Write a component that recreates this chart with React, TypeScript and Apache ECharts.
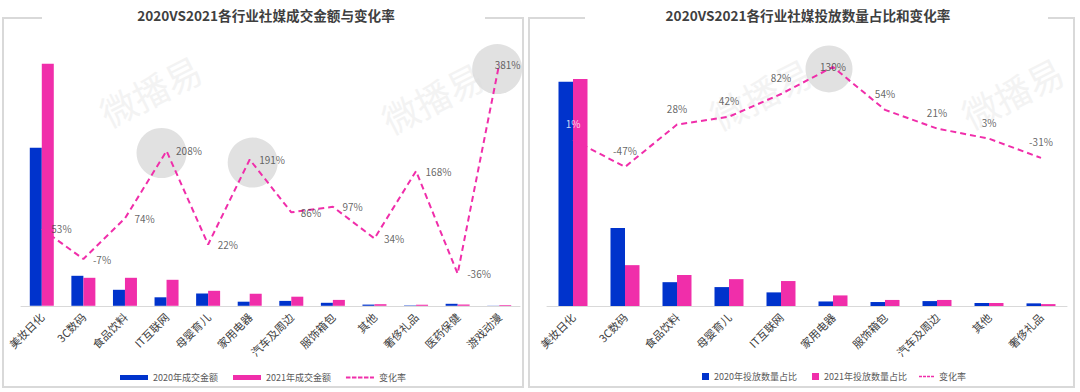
import React, { useEffect, useRef } from 'react';
import * as echarts from 'echarts';

const FONT = '"Noto Sans CJK SC", "Noto Sans", sans-serif';

// Left chart: 成交金额
const leftCats = ['美妆日化', '3C数码', '食品饮料', 'IT互联网', '母婴育儿', '家用电器', '汽车及周边', '服饰箱包', '其他', '奢侈礼品', '医药保健', '游戏动漫'];
const left2020 = [158, 30, 16, 8.5, 12.3, 4.1, 4.9, 3.0, 1.2, 0.4, 2.0, 0.15];
const left2021 = [242, 28, 28, 26, 15, 12, 9.1, 5.9, 1.6, 1.07, 1.28, 0.72];
const leftRate = [53, -7, 74, 208, 22, 191, 86, 97, 34, 168, -36, 381];
const leftHighlight = ['IT互联网', '家用电器', '游戏动漫'];

// Right chart: 投放数量占比 (%)
const rightCats = ['美妆日化', '3C数码', '食品饮料', '母婴育儿', 'IT互联网', '家用电器', '服饰箱包', '汽车及周边', '其他', '奢侈礼品'];
const right2020 = [59.3, 20.6, 6.3, 5.0, 3.6, 1.2, 1.05, 1.3, 0.8, 0.7];
const right2021 = [60.0, 10.8, 8.2, 7.1, 6.6, 2.8, 1.6, 1.6, 0.8, 0.5];
const rightRate = [1, -47, 28, 42, 82, 130, 54, 21, 3, -31];
const rightHighlight = ['家用电器'];

const leftTitle = '2020VS2021各行业社媒成交金额与变化率';
const rightTitle = '2020VS2021各行业社媒投放数量占比和变化率';
const watermark = '微播易';

const BLUE = '#0033CC';
const PINK = '#F02EAA';
const GRAY = '#d9d9d9';
const TEXT = '#404040';

const leftOffsets: Record<string, number[]> = { 'IT互联网': [-5, 2], '家用电器': [3, 3], '游戏动漫': [-2, 5] };
const rightOffsets: Record<string, number[]> = { '家用电器': [-4, 2] };

// dashed-line legend icons (bbox matches itemWidth x itemHeight, tiny corner marks fix the bbox)
const dashIconWide =
  'path://M0 0h0.01v0.01h-0.01z M0 4.99h0.01v0.01h-0.01z M0 1.5h4.5v2h-4.5z M6 1.5h4.5v2h-4.5z M12 1.5h4.5v2h-4.5z M18 1.5h4.5v2h-4.5z M24 1.5h4v2h-4z';
const dashIconSmall =
  'path://M0 0h0.01v0.01h-0.01z M0 6.99h0.01v0.01h-0.01z M0 2.8h3v1.4h-3z M4 2.8h3v1.4h-3z M8 2.8h3v1.4h-3z M12 2.8h3v1.4h-3z';

function wm(x: number, y: number) {
  return {
    type: 'text', x, y, rotation: 0.47, silent: true, z: -10,
    style: { text: watermark, fontSize: 36, fontFamily: FONT, fill: '#f3f3f3', align: 'center', verticalAlign: 'middle' },
  };
}

function buildOption() {
  const axisLabel = { rotate: 45, fontSize: 11, color: TEXT, margin: 9, interval: 0, fontFamily: FONT };
  const lineStyle = { color: PINK, width: 2, type: [6, 4] };
  return {
    animation: false,
    textStyle: { fontFamily: FONT },
    graphic: [
      wm(150, 90), wm(432, 97), wm(760, 93), wm(1012, 92),
      {
        type: 'polyline', silent: true,
        shape: { points: [[42, 18], [3, 18], [3, 387], [523, 387], [523, 18], [485, 18]] },
        style: { stroke: GRAY, lineWidth: 2, fill: null },
      },
      {
        type: 'polyline', silent: true,
        shape: { points: [[585, 18], [529, 18], [529, 387], [1074, 387], [1074, 18], [1048, 18]] },
        style: { stroke: GRAY, lineWidth: 2, fill: null },
      },
      {
        type: 'text', x: 266, y: 15,
        style: { text: leftTitle, fontSize: 13.6, fontWeight: 'bold', fontFamily: FONT, fill: '#3f3f3f', align: 'center', verticalAlign: 'middle' },
      },
      {
        type: 'text', x: 808, y: 15,
        style: { text: rightTitle, fontSize: 13.6, fontWeight: 'bold', fontFamily: FONT, fill: '#3f3f3f', align: 'center', verticalAlign: 'middle' },
      },
    ],
    legend: [
      {
        data: [
          { name: '2020年成交金额', icon: 'rect' },
          { name: '2021年成交金额', icon: 'rect' },
          { name: '变化率', icon: dashIconWide },
        ],
        left: 115, top: 368, itemWidth: 28, itemHeight: 5, itemGap: 15,
        textStyle: { fontSize: 9, color: '#595959', fontFamily: FONT },
        selectedMode: false,
      },
      {
        data: [{ name: '2020年投放数量占比', icon: 'rect' }, { name: '2021年投放数量占比', icon: 'rect' }],
        left: 697, top: 367, itemWidth: 7, itemHeight: 7, itemGap: 15,
        textStyle: { fontSize: 9, color: '#595959', fontFamily: FONT },
        selectedMode: false,
      },
      {
        data: [{ name: '变化率', icon: dashIconSmall }],
        left: 914, top: 367, itemWidth: 15, itemHeight: 7,
        textStyle: { fontSize: 9, color: '#595959', fontFamily: FONT },
        selectedMode: false,
      },
    ],
    grid: [
      { left: 21, top: 54.5, width: 499, height: 251.3 },
      { left: 547, top: 55.6, width: 520, height: 250.4 },
    ],
    xAxis: [
      {
        type: 'category', gridIndex: 0, data: leftCats,
        axisLine: { lineStyle: { color: GRAY } }, axisTick: { show: false }, axisLabel,
      },
      {
        type: 'category', gridIndex: 1, data: rightCats,
        axisLine: { lineStyle: { color: GRAY } }, axisTick: { show: false }, axisLabel,
      },
    ],
    yAxis: [
      { type: 'value', gridIndex: 0, min: 0, max: 251.3, show: false },
      { type: 'value', gridIndex: 0, min: -100, max: 400, show: false },
      { type: 'value', gridIndex: 1, min: 0, max: 66.2, show: false },
      { type: 'value', gridIndex: 1, min: -293, max: 150, show: false },
    ],
    series: [
      {
        type: 'scatter', xAxisIndex: 0, yAxisIndex: 1, silent: true, z: 1,
        symbolSize: 50, itemStyle: { color: GRAY },
        data: leftHighlight.map((c) => ({ value: [c, leftRate[leftCats.indexOf(c)]], symbolOffset: leftOffsets[c] })),
      },
      {
        name: '2020年成交金额', type: 'bar', xAxisIndex: 0, yAxisIndex: 0,
        barWidth: 12, barGap: '0%', itemStyle: { color: BLUE }, data: left2020,
      },
      {
        name: '2021年成交金额', type: 'bar', xAxisIndex: 0, yAxisIndex: 0,
        barWidth: 12, barGap: '0%', itemStyle: { color: PINK }, data: left2021,
      },
      {
        name: '变化率', type: 'line', xAxisIndex: 0, yAxisIndex: 1, z: 4,
        symbol: 'none', lineStyle, itemStyle: { color: PINK },
        data: leftRate,
      },
      {
        type: 'scatter', xAxisIndex: 0, yAxisIndex: 1, silent: true, z: 5,
        symbolSize: 1, itemStyle: { color: 'rgba(0,0,0,0)' },
        label: { show: true, position: 'right', distance: 9, fontSize: 10, color: TEXT, formatter: (p: any) => p.value[1] + '%' },
        data: leftCats.map((c, i) =>
          i === leftCats.length - 1
            ? { value: [c, leftRate[i]], label: { offset: [-14, 0] } }
            : { value: [c, leftRate[i]] }
        ),
      },
      {
        type: 'scatter', xAxisIndex: 1, yAxisIndex: 3, silent: true, z: 1,
        symbolSize: 47, itemStyle: { color: GRAY },
        data: rightHighlight.map((c) => ({ value: [c, rightRate[rightCats.indexOf(c)]], symbolOffset: rightOffsets[c] })),
      },
      {
        name: '2020年投放数量占比', type: 'bar', xAxisIndex: 1, yAxisIndex: 2,
        barWidth: 14.5, barGap: '0%', itemStyle: { color: BLUE }, data: right2020,
      },
      {
        name: '2021年投放数量占比', type: 'bar', xAxisIndex: 1, yAxisIndex: 2,
        barWidth: 14.5, barGap: '0%', itemStyle: { color: PINK }, data: right2021,
      },
      {
        name: '变化率', type: 'line', xAxisIndex: 1, yAxisIndex: 3, z: 4,
        symbol: 'none', lineStyle, itemStyle: { color: PINK },
        data: rightRate,
      },
      {
        type: 'scatter', xAxisIndex: 1, yAxisIndex: 3, silent: true, z: 5,
        symbolSize: 1, itemStyle: { color: 'rgba(0,0,0,0)' },
        label: { show: true, position: 'top', distance: 11, fontSize: 10, color: TEXT, formatter: (p: any) => p.value[1] + '%' },
        data: rightCats.map((c, i) => {
          if (i === 0) return { value: [c, rightRate[i]], label: { color: '#ffffff' } };
          if (c === '家用电器') return { value: [c, rightRate[i]], label: { position: 'inside' } };
          return { value: [c, rightRate[i]] };
        }),
      },
    ],
  };
}

export default function App() {
  const ref = useRef<HTMLDivElement>(null);
  useEffect(() => {
    const chart = echarts.init(ref.current as HTMLDivElement, null, { renderer: 'svg' });
    chart.setOption(buildOption() as any);
    return () => chart.dispose();
  }, []);
  return (
    <div
      ref={ref}
      style={{ position: 'absolute', left: 0, top: 0, width: 1080, height: 392, background: '#ffffff' }}
    />
  );
}
